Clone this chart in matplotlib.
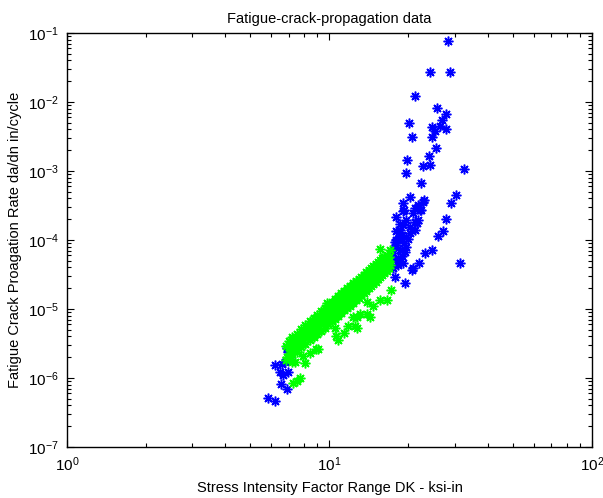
import matplotlib
matplotlib.use("Agg")
import matplotlib.pyplot as plt
from matplotlib.ticker import LogLocator, NullFormatter

plt.rcParams["font.family"] = ["Liberation Sans", "DejaVu Sans"]

# =========================
# DATA
# =========================
# blue: the wider spread set, including the high-rate tail
blue_dk = [
    28.2, 24.1, 28.8, 21.2, 25.7, 27.9, 20.1, 26.8, 24.6, 26.4,
    27.7, 25.3, 20.6, 24.6, 25.5, 19.7, 23.9, 22.8, 24.2, 32.5,
    19.5, 22.3, 30.4, 20.3, 29.0, 19.1, 22.9, 21.8, 21.2, 22.4,
    19.0, 20.8, 18.0, 19.6, 21.2, 21.8, 20.3, 18.6, 27.9, 20.3,
    21.2, 19.6, 27.0, 26.0, 18.0, 19.2, 18.6, 19.6, 17.5, 18.9,
    24.6, 23.1, 22.0, 31.4, 20.8, 18.3, 17.8, 18.3, 17.5, 17.8,
    19.4, 20.7, 18.0, 18.6, 19.0, 19.2, 22.8, 22.1, 21.5, 18.9,
    19.1, 18.3, 17.2, 18.0, 19.4, 17.8, 18.6, 19.9, 18.2, 17.4,
    7.18, 6.97, 6.20, 6.58, 6.77, 6.48, 6.97, 6.66, 6.51, 6.87,
    5.84, 6.20, 7.05, 6.90,
]
blue_rate = [
    7.7e-2, 2.7e-2, 2.7e-2, 1.22e-2, 8.2e-3, 6.7e-3, 5.0e-3, 5.5e-3, 4.3e-3, 4.5e-3,
    4.1e-3, 3.8e-3, 3.1e-3, 3.1e-3, 2.15e-3, 1.44e-3, 1.65e-3, 1.17e-3, 1.23e-3, 1.07e-3,
    9.3e-4, 6.7e-4, 4.5e-4, 4.2e-4, 3.4e-4, 3.4e-4, 3.8e-4, 3.2e-4, 2.9e-4, 2.7e-4,
    2.6e-4, 2.45e-4, 2.15e-4, 1.95e-4, 1.85e-4, 1.95e-4, 1.55e-4, 1.7e-4, 2.0e-4, 1.25e-4,
    1.4e-4, 1.12e-4, 1.35e-4, 1.14e-4, 1.0e-4, 9.0e-5, 7.2e-5, 7.9e-5, 6.5e-5, 5.8e-5,
    7.2e-5, 6.5e-5, 4.7e-5, 4.6e-5, 3.9e-5, 1.05e-4, 7.9e-5, 5.4e-5, 3.9e-5, 2.9e-5,
    2.4e-5, 3.7e-5, 1.35e-4, 1.4e-4, 1.65e-4, 2.7e-4, 3.6e-4, 2.7e-4, 1.75e-4, 1.2e-4,
    4.6e-5, 5.0e-5, 6.0e-5, 8.5e-5, 6.8e-5, 9.5e-5, 1.15e-4, 1.05e-4, 4.4e-5, 5.2e-5,
    3.2e-6, 2.35e-6, 1.55e-6, 1.6e-6, 1.7e-6, 1.23e-6, 1.23e-6, 1.1e-6, 8.2e-7, 6.9e-7,
    5.2e-7, 4.6e-7, 2.0e-6, 2.7e-6,
]

# green: the tight band plus its lower branch
green_dk = [
    # band, middle
    6.9, 7.0, 7.1, 7.2, 7.3, 7.4, 7.5, 7.6, 7.7, 7.8,
    7.9, 8.0, 8.1, 8.2, 8.3, 8.4, 8.5, 8.6, 8.7, 8.8,
    8.9, 9.0, 9.1, 9.2, 9.3, 9.4, 9.5, 9.6, 9.7, 9.8,
    9.9, 10.0, 10.1, 10.2, 10.3, 10.4, 10.5, 10.6, 10.7, 10.8,
    10.9, 11.0, 11.1, 11.2, 11.3, 11.4, 11.5, 11.6, 11.7, 11.8,
    11.9, 12.0, 12.2, 12.3, 12.5, 12.6, 12.8, 12.9, 13.1, 13.2,
    13.4, 13.6, 13.8, 14.0, 14.2, 14.4, 14.6, 14.8, 15.0, 15.2,
    15.4, 15.6, 15.8, 16.0, 16.2, 16.4, 16.6, 16.8, 17.0,
    # band, upper and lower edges
    6.8, 6.8, 7.0, 7.0, 7.2, 7.2, 7.2, 7.5, 7.5, 7.5,
    7.8, 7.8, 7.8, 8.1, 8.1, 8.1, 8.4, 8.4, 8.4, 8.7,
    8.7, 8.7, 9.0, 9.0, 9.0, 9.3, 9.3, 9.3, 9.6, 9.6,
    9.6, 9.9, 9.9, 9.9, 10.2, 10.2, 10.2, 10.5, 10.5, 10.5,
    10.8, 10.8, 10.8, 11.1, 11.1, 11.1, 11.4, 11.4, 11.4, 11.7,
    11.7, 11.7, 12.0, 12.0, 12.0, 12.3, 12.3, 12.3, 12.6, 12.6,
    12.6, 12.9, 12.9, 12.9, 13.2, 13.2, 13.2, 13.5, 13.5, 13.5,
    13.8, 13.8, 13.8, 14.1, 14.1, 14.1, 14.4, 14.4, 14.4, 14.7,
    14.7, 14.7, 15.0, 15.0, 15.0, 15.3, 15.3, 15.3, 15.6, 15.6,
    15.6, 15.9, 15.9, 15.9, 16.2, 16.2, 16.2, 16.5, 16.5, 16.8,
    16.8,
    # stray points
    9.75, 11.4, 15.6, 17.0,
    # lower branch
    17.2, 16.5, 15.6, 14.7, 13.9, 13.9, 13.1, 12.3, 14.3, 12.7,
    11.8, 11.4, 10.8, 10.6, 12.5, 10.5, 9.04, 8.43, 8.07, 7.96,
    7.18, 7.28, 7.5, 7.72, 7.39, 8.9, 12.7,
]
green_rate = [
    2.0e-6, 2.8e-6, 2.3e-6, 3.0e-6, 2.6e-6, 3.4e-6, 2.9e-6, 3.6e-6, 3.1e-6, 4.0e-6,
    3.5e-6, 4.4e-6, 3.8e-6, 4.8e-6, 4.1e-6, 5.3e-6, 4.5e-6, 5.6e-6, 4.9e-6, 6.2e-6,
    5.2e-6, 6.6e-6, 5.6e-6, 7.1e-6, 6.0e-6, 7.8e-6, 6.5e-6, 8.3e-6, 7.0e-6, 9.0e-6,
    7.4e-6, 9.6e-6, 8.0e-6, 1.03e-5, 8.6e-6, 1.1e-5, 9.2e-6, 1.18e-5, 9.8e-6, 1.25e-5,
    1.04e-5, 1.33e-5, 1.1e-5, 1.42e-5, 1.17e-5, 1.5e-5, 1.24e-5, 1.6e-5, 1.32e-5, 1.7e-5,
    1.4e-5, 1.78e-5, 1.5e-5, 1.95e-5, 1.62e-5, 2.1e-5, 1.75e-5, 2.25e-5, 1.9e-5, 2.45e-5,
    2.05e-5, 2.65e-5, 2.25e-5, 2.9e-5, 2.45e-5, 3.2e-5, 2.7e-5, 3.5e-5, 2.95e-5, 3.8e-5,
    3.25e-5, 4.1e-5, 3.5e-5, 4.4e-5, 3.8e-5, 4.7e-5, 4.1e-5, 5.0e-5, 4.4e-5,
    2.9e-6, 1.8e-6, 3.4e-6, 2.0e-6, 3.9e-6, 2.2e-6, 2.9e-6, 4.4e-6, 2.4e-6, 3.6e-6,
    5.1e-6, 2.8e-6, 4.2e-6, 5.8e-6, 3.1e-6, 4.6e-6, 6.6e-6, 3.5e-6, 5.2e-6, 7.4e-6,
    3.9e-6, 5.9e-6, 8.2e-6, 4.3e-6, 6.8e-6, 9.3e-6, 4.8e-6, 7.4e-6, 1.04e-5, 5.3e-6,
    8.2e-6, 1.15e-5, 6.0e-6, 9.1e-6, 1.28e-5, 6.6e-6, 1.0e-5, 1.4e-5, 7.2e-6, 1.12e-5,
    1.55e-5, 8.0e-6, 1.22e-5, 1.7e-5, 8.8e-6, 1.35e-5, 1.85e-5, 9.6e-6, 1.5e-5, 2.0e-5,
    1.05e-5, 1.62e-5, 2.15e-5, 1.12e-5, 1.75e-5, 2.35e-5, 1.22e-5, 1.9e-5, 2.55e-5, 1.33e-5,
    2.05e-5, 2.75e-5, 1.45e-5, 2.2e-5, 2.95e-5, 1.58e-5, 2.4e-5, 3.15e-5, 1.7e-5, 2.6e-5,
    3.4e-5, 1.85e-5, 2.8e-5, 3.7e-5, 2.0e-5, 3.0e-5, 3.95e-5, 2.15e-5, 3.25e-5, 4.25e-5,
    2.3e-5, 3.5e-5, 4.5e-5, 2.5e-5, 3.75e-5, 4.8e-5, 2.7e-5, 4.0e-5, 5.1e-5, 2.9e-5,
    4.3e-5, 5.4e-5, 3.1e-5, 4.6e-5, 5.7e-5, 3.3e-5, 4.9e-5, 6.0e-5, 3.5e-5, 5.6e-5,
    3.9e-5,
    1.22e-5, 1.7e-5, 7.3e-5, 7.1e-5,
    1.9e-5, 1.35e-5, 1.35e-5, 1.1e-5, 1.27e-5, 8.6e-6, 8.6e-6, 7.7e-6, 7.7e-6, 5.3e-6,
    5.6e-6, 4.5e-6, 3.6e-6, 4.0e-6, 5.6e-6, 5.3e-6, 2.6e-6, 2.3e-6, 1.65e-6, 2.05e-6,
    1.7e-6, 8.6e-7, 9.0e-7, 1.0e-6, 1.7e-6, 2.6e-6, 7.7e-6,
]

# =========================
# PLOT
# =========================
fig = plt.figure(figsize=(6.03, 4.98), dpi=100)
ax = fig.add_axes([0.1111, 0.1024, 0.8706, 0.8313])

star = (8, 2, 0)
ax.loglog(blue_dk, blue_rate, linestyle="none", marker=star, markersize=7,
          markeredgewidth=1.1, color="#0000ff")
ax.loglog(green_dk, green_rate, linestyle="none", marker=star, markersize=7,
          markeredgewidth=1.1, color="#00ff00")

ax.set_xlim(1, 100)
ax.set_ylim(1e-7, 1e-1)

ax.xaxis.set_major_locator(LogLocator(base=10, numticks=10))
ax.yaxis.set_major_locator(LogLocator(base=10, numticks=10))
ax.xaxis.set_minor_locator(LogLocator(base=10, subs=range(2, 10), numticks=20))
ax.yaxis.set_minor_locator(LogLocator(base=10, subs=range(2, 10), numticks=20))
ax.xaxis.set_minor_formatter(NullFormatter())
ax.yaxis.set_minor_formatter(NullFormatter())

ax.tick_params(which="both", direction="in", top=True, right=True,
               labelsize=11, width=0.8)
ax.tick_params(which="major", length=5, pad=6)
ax.tick_params(which="minor", length=3)
for s in ax.spines.values():
    s.set_linewidth(1.0)

ax.set_title("Fatigue-crack-propagation data", fontsize=10.5, pad=7)
ax.set_xlabel("Stress Intensity Factor Range DK - ksi-in", fontsize=10.5, labelpad=5)
ax.set_ylabel("Fatigue Crack Proagation Rate da/dn in/cycle", fontsize=10.5, labelpad=4)

fig.savefig("out.png", dpi=100)
